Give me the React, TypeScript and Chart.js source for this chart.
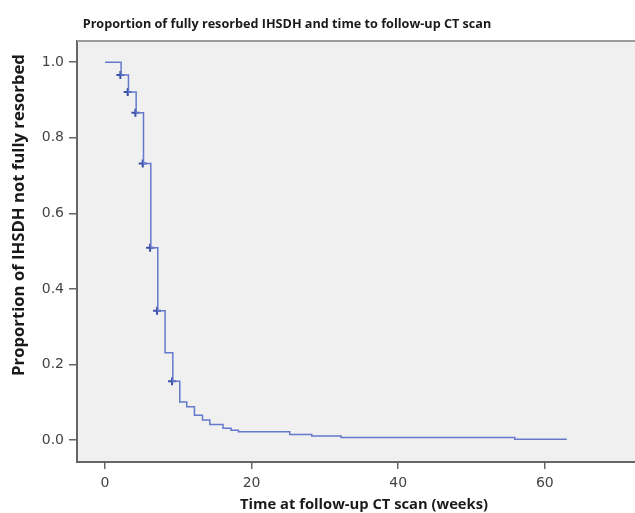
import React, { useEffect, useRef } from "react";
import { Chart, registerables } from "chart.js";

Chart.register(...registerables);

const titleText = "Proportion of fully resorbed IHSDH and time to follow-up CT scan";
const xTitle = "Time at follow-up CT scan (weeks)";
const yTitle = "Proportion of IHSDH not fully resorbed";

const times = [0, 2.2, 3.2, 4.25, 5.25, 6.25, 7.2, 8.2, 9.25, 10.2, 11.15, 12.2, 13.3, 14.3, 16.1, 17.2, 18.2, 25.2, 28.2, 32.2, 55.9, 63];
const survival = [1.0, 0.966, 0.921, 0.866, 0.732, 0.509, 0.342, 0.231, 0.156, 0.101, 0.088, 0.066, 0.053, 0.041, 0.031, 0.026, 0.022, 0.015, 0.011, 0.007, 0.002, 0.002];

const censorTimes = [2.1, 3.1, 4.15, 5.15, 6.15, 7.1, 9.15];
const censorValues = [0.966, 0.921, 0.866, 0.732, 0.509, 0.342, 0.156];

const xTicks = [0, 20, 40, 60];
const yTicks = [0, 0.2, 0.4, 0.6, 0.8, 1.0];

const FONT = "'DejaVu Sans', Verdana, sans-serif";
const TFONT = "'Open Sans', 'Liberation Sans', sans-serif";

function fitFont(ctx: CanvasRenderingContext2D, text: string, target: number, weight: string) {
  ctx.font = `${weight} 12px ${TFONT}`;
  const w = ctx.measureText(text).width;
  const size = (12 * target) / w;
  ctx.font = `${weight} ${size.toFixed(2)}px ${TFONT}`;
}

const decorPlugin = {
  id: "decor",
  beforeDraw(chart: any) {
    const { ctx, chartArea } = chart;
    ctx.save();
    ctx.fillStyle = "#f0f0f0";
    ctx.fillRect(chartArea.left, chartArea.top, chartArea.right - chartArea.left, chartArea.bottom - chartArea.top);
    ctx.restore();
  },
  afterDraw(chart: any) {
    const { ctx, chartArea } = chart;
    ctx.save();
    ctx.strokeStyle = "#9a9a9a";
    ctx.lineWidth = 2;
    ctx.beginPath();
    ctx.moveTo(chartArea.left, chartArea.top);
    ctx.lineTo(chartArea.right, chartArea.top);
    ctx.stroke();
    ctx.fillStyle = "#1a1a1a";
    ctx.textAlign = "center";
    ctx.textBaseline = "middle";
    fitFont(ctx, titleText, 409, "bold");
    ctx.fillText(titleText, 287, 24);
    fitFont(ctx, xTitle, 248, "bold");
    ctx.fillText(xTitle, 364, 505);
    fitFont(ctx, yTitle, 322, "bold");
    ctx.translate(19, 215);
    ctx.rotate(-Math.PI / 2);
    ctx.fillText(yTitle, 0, 0);
    ctx.restore();
  },
};

export default function App() {
  const ref = useRef<HTMLCanvasElement>(null);
  useEffect(() => {
    document.body.style.margin = "0";
    const chart = new Chart(ref.current!, {
      type: "scatter",
      data: {
        datasets: [
          {
            type: "line",
            data: times.map((t, i) => ({ x: t, y: survival[i] })),
            stepped: "before",
            borderColor: "#6479cc",
            borderWidth: 1.5,
            pointRadius: 0,
            fill: false,
          } as any,
          {
            type: "scatter",
            data: censorTimes.map((t, i) => ({ x: t, y: censorValues[i] })),
            pointStyle: "cross",
            pointRadius: 4,
            borderColor: "#3a4ea6",
            borderWidth: 2,
            backgroundColor: "#3a4ea6",
          },
        ],
      },
      options: {
        animation: false,
        responsive: false,
        maintainAspectRatio: false,
        layout: { autoPadding: false, padding: { top: 41, right: 0, left: 0, bottom: 0 } },
        plugins: { legend: { display: false }, tooltip: { enabled: false }, title: { display: false } },
        scales: {
          x: {
            type: "linear",
            min: -3.82,
            max: 72.3,
            afterFit(scale: any) {
              scale.height = 51;
              scale.paddingRight = 0;
              scale.paddingLeft = 0;
            },
            afterBuildTicks(scale: any) {
              scale.ticks = xTicks.map((v) => ({ value: v }));
            },
            ticks: {
              color: "#444",
              font: { family: FONT, size: 14 },
              padding: 6,
              callback: (v: any) => String(v),
              maxRotation: 0,
            },
            grid: { display: true, drawOnChartArea: false, drawTicks: true, tickLength: 7, color: "#666", lineWidth: 1.5 },
            border: { display: true, color: "#666", width: 2 },
          },
          y: {
            type: "linear",
            min: -0.058,
            max: 1.056,
            afterFit(scale: any) {
              scale.width = 77;
              scale.paddingTop = 0;
              scale.paddingBottom = 0;
            },
            afterBuildTicks(scale: any) {
              scale.ticks = yTicks.map((v) => ({ value: v }));
            },
            ticks: {
              color: "#444",
              font: { family: FONT, size: 14 },
              padding: 5,
              callback: (v: any) => Number(v).toFixed(1),
            },
            grid: { display: true, drawOnChartArea: false, drawTicks: true, tickLength: 8, color: "#666", lineWidth: 1.5 },
            border: { display: true, color: "#666", width: 2 },
          },
        },
      },
      plugins: [decorPlugin],
    });
    return () => chart.destroy();
  }, []);
  return (
    <div style={{ width: 635, height: 513 }}>
      <canvas ref={ref} width={635} height={513} style={{ display: "block", width: 635, height: 513 }} />
    </div>
  );
}
